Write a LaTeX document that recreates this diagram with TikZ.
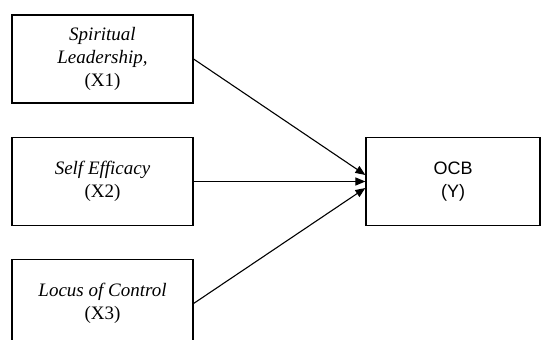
\documentclass[tikz,border=0pt]{standalone}
\usepackage{fontspec}
\setmainfont{Liberation Serif}
\setsansfont{Liberation Sans}
\usetikzlibrary{positioning,calc,arrows.meta}

\begin{document}
\begin{tikzpicture}[
    x=1pt, y=-1pt,
    font=\fontsize{19}{23}\selectfont,
    box/.style={draw, line width=1.2pt, rectangle, align=center,
                minimum width=181pt, minimum height=88pt, inner sep=0pt},
    flow/.style={-{Triangle[length=10pt,width=8pt]}, line width=1.1pt},
  ]
  \useasboundingbox (0,0) rectangle (541,340);
  \clip (0,0) rectangle (541,340);

  % ======================= VARIABLES X =======================
  \node[box] (x1) at (102.5, 59.0) {%
    \textit{Spiritual}\\
    \textit{Leadership,}\\
    (X1)};
  \node[box] (x2) at (102.5, 181.5) {%
    \textit{Self Efficacy}\\
    (X2)};
  \node[box] (x3) at (102.5, 303.5) {%
    \textit{Locus of Control}\\
    (X3)};

  % ======================== VARIABLE Y =======================
  \node[box, minimum width=174pt, font=\sffamily\fontsize{18}{23}\selectfont]
    (y) at (453.0, 181.5) {OCB\\(Y)};

  % ========================== FLECHAS ========================
  \coordinate (in1) at ([yshift=6.5pt]y.west);
  \coordinate (in3) at ([yshift=-6.5pt]y.west);
  \draw[flow] (x1.east) -- (in1);
  \draw[flow] (x2.east) -- (y.west);
  \draw[flow] (x3.east) -- (in3);
\end{tikzpicture}
\end{document}
